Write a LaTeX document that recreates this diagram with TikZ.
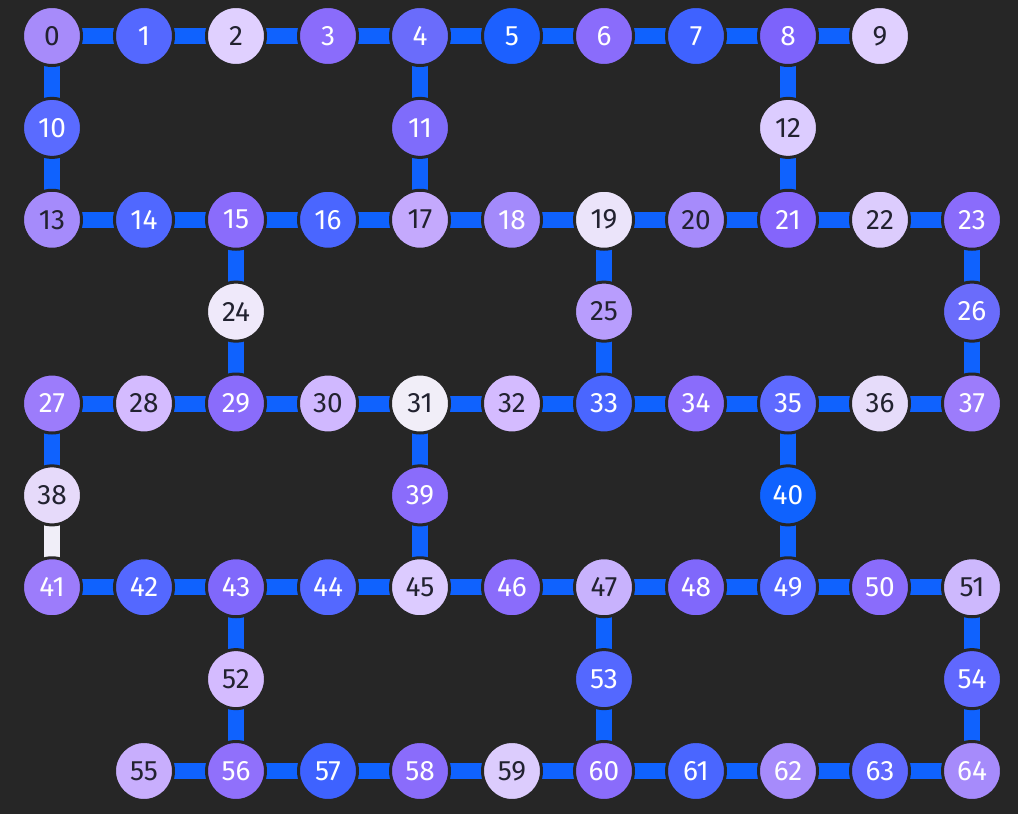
\documentclass[tikz,border=0pt]{standalone}
\usepackage{fontspec}
\setmainfont{Fira Sans}
\usetikzlibrary{backgrounds}
\definecolor{bg}{HTML}{262626}
\definecolor{edgeblue}{HTML}{0F62FE}
\definecolor{edgelight}{HTML}{F0EEF8}
\definecolor{dtext}{HTML}{222230}
\tikzset{
  qb/.style={circle, minimum size=59pt, inner sep=0pt, line width=3pt, draw=bg,
    font=\fontsize{28}{28}\selectfont},
  edge/.style={line width=16pt, draw=edgeblue, line cap=butt}
}
\begin{document}
\begin{tikzpicture}[x=1pt,y=-1pt]
\useasboundingbox (0,0) rectangle (1018,814);
\foreach \i/\c/\r/\h/\t in {
 0/0/0/A78BFA/dtext, 1/1/0/5468FF/white, 2/2/0/E0D0FF/dtext, 3/3/0/8A6CFB/white,
 4/4/0/6A6CFB/white, 5/5/0/1C60FF/white, 6/6/0/8A6CFB/white, 7/7/0/3F62FF/white,
 8/8/0/7D63FB/white, 9/9/0/E0D0FF/dtext,
 10/0/1/5A6BFF/white, 11/4/1/7F6CFB/white, 12/8/1/DCCCFF/dtext,
 13/0/2/A58BFB/dtext, 14/1/2/5068FF/white, 15/2/2/8A6CFB/white, 16/3/2/4A66FF/white,
 17/4/2/C4A9FD/dtext, 18/5/2/A38AFB/white, 19/6/2/EBE4FA/dtext, 20/7/2/A68BFB/dtext,
 21/8/2/8465FB/white, 22/9/2/DCCCFD/dtext, 23/10/2/8A6CFB/white,
 24/2/3/EFE9FA/dtext, 25/6/3/B89DFD/dtext, 26/10/3/6A6CFB/white,
 27/0/4/9C7CFB/white, 28/1/4/D4BBFF/dtext, 29/2/4/8A6CFB/white, 30/3/4/D0B8FF/dtext,
 31/4/4/F1EEF8/dtext, 32/5/4/D4BBFF/dtext, 33/6/4/4A66FF/white, 34/7/4/8A6CFB/white,
 35/8/4/5E6AFF/white, 36/9/4/E6DCFA/dtext, 37/10/4/9C7CFB/white,
 38/0/5/E6DAFA/dtext, 39/4/5/8A6CFB/white, 40/8/5/0F62FE/white,
 41/0/6/9C7CFB/white, 42/1/6/5468FF/white, 43/2/6/8068FB/white, 44/3/6/5468FF/white,
 45/4/6/DCCBFF/dtext, 46/5/6/8A6CFB/white, 47/6/6/C8B2FD/dtext, 48/7/6/8068FB/white,
 49/8/6/5468FF/white, 50/9/6/8A6CFB/white, 51/10/6/CDB8FD/dtext,
 52/2/7/D4BBFF/dtext, 53/6/7/5468FF/white, 54/10/7/6068FE/white,
 55/1/8/C8AEFD/dtext, 56/2/8/9070FB/white, 57/3/8/3E62FF/white, 58/4/8/8A6CFB/white,
 59/5/8/DCCCFD/dtext, 60/6/8/8A6CFB/white, 61/7/8/4A66FF/white, 62/8/8/A68BFB/white,
 63/9/8/6068FE/white, 64/10/8/A68BFB/white}{
  \definecolor{tmp}{HTML}{\h}
  \node[qb, fill=tmp, text=\t] (n\i) at ({52+92*\c},{36+91.875*\r}) {\i};
}
\begin{scope}[on background layer]
  \fill[bg] (0,0) rectangle (1018,814);
  \foreach \s/\e in {0/8,13/22,27/36,41/50,55/63}{
    \foreach \a in {\s,...,\e}{
      \pgfmathtruncatemacro\b{\a+1}
      \draw[edge] (n\a.center) -- (n\b.center);
    }
  }
  \foreach \a/\b in {0/10,10/13,4/11,11/17,8/12,12/21,15/24,24/29,19/25,25/33,
    23/26,26/37,27/38,31/39,39/45,35/40,40/49,43/52,52/56,47/53,53/60,51/54,54/64}{
    \draw[edge] (n\a.center) -- (n\b.center);
  }
  \draw[edge, draw=edgelight] (n38.center) -- (n41.center);
\end{scope}
\end{tikzpicture}
\end{document}
